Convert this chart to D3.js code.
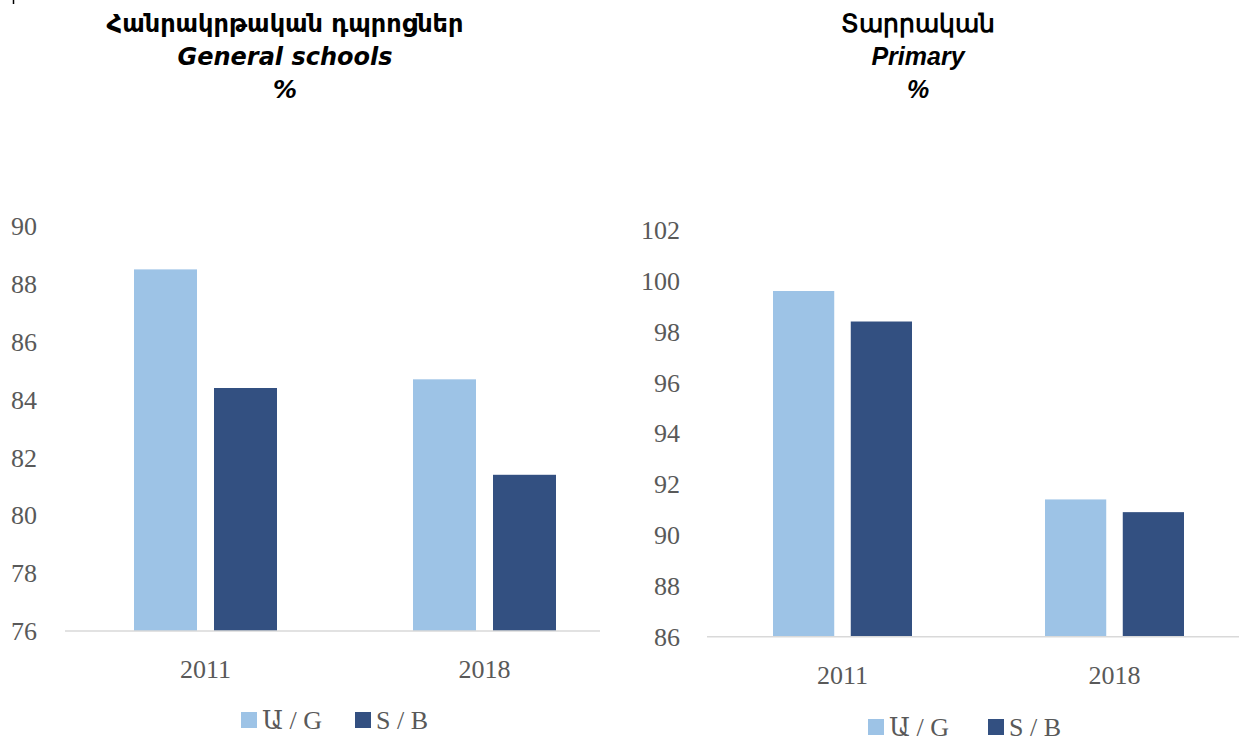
<!DOCTYPE html>
<html>
<head>
<meta charset="utf-8">
<script src="https://cdn.jsdelivr.net/npm/d3@7"></script>
<style>
  body { margin: 0; background: #fff; }
  .tick-label { font-family: "Liberation Serif", "DejaVu Serif", serif; font-size: 26px; fill: #595959; }
  .title-a { font-family: "DejaVu Sans", "Noto Sans", sans-serif; font-weight: bold; font-size: 24px; fill: #000; }
  .title-b { font-family: "Liberation Sans", Arial, sans-serif; font-weight: bold; font-size: 25px; fill: #000; }
</style>
</head>
<body>
<svg id="chart" width="1239" height="742"></svg>
<script>
const years = ["2011", "2018"];
const seriesNames = ["Ա / G", "S / B"];
const generalG = [88.5, 84.7];
const generalB = [84.4, 81.4];
const primaryG = [99.6, 91.4];
const primaryB = [98.4, 90.9];
const generalTicks = [76, 78, 80, 82, 84, 86, 88, 90];
const primaryTicks = [86, 88, 90, 92, 94, 96, 98, 100, 102];

const colors = ["#9DC3E6", "#335081"];
const svg = d3.select("#chart");

// small mark top-left
svg.append("line").attr("x1", 13.5).attr("x2", 13.5).attr("y1", 0).attr("y2", 4)
   .attr("stroke", "#000").attr("stroke-width", 1.5);

function drawPanel(cfg) {
    const g = svg.append("g");
    const x0 = d3.scaleBand().domain(years).range(cfg.xRange).paddingInner(0).paddingOuter(0);
    const half = cfg.group / 2;
    const x1 = d3.scaleBand().domain(seriesNames).range([-half, half])
                 .paddingInner(cfg.pad).paddingOuter(0);
    const y = d3.scaleLinear().domain(cfg.domain).range(cfg.yRange);

    // tick labels
    cfg.ticks.forEach(t => {
        g.append("text")
         .attr("class", "tick-label")
         .attr("x", cfg.labelX)
         .attr("y", y(t))
         .attr("dy", "0.35em")
         .attr("text-anchor", cfg.labelAnchor)
         .text(t);
    });

    // bars
    years.forEach((yr, i) => {
        const vals = [cfg.g[i], cfg.b[i]];
        seriesNames.forEach((s, j) => {
            const cx = x0(yr) + x0.bandwidth() / 2;
            g.append("rect")
             .attr("x", cx + x1(s))
             .attr("width", x1.bandwidth())
             .attr("y", y(vals[j]))
             .attr("height", y(cfg.domain[0]) - y(vals[j]))
             .attr("fill", colors[j]);
        });
        g.append("text")
         .attr("class", "tick-label")
         .attr("x", x0(yr) + x0.bandwidth() / 2)
         .attr("y", cfg.catY)
         .attr("text-anchor", "middle")
         .text(yr);
    });

    // baseline
    g.append("line")
     .attr("x1", cfg.lineX[0]).attr("x2", cfg.lineX[1])
     .attr("y1", y(cfg.domain[0])).attr("y2", y(cfg.domain[0]))
     .attr("stroke", "#d9d9d9").attr("stroke-width", 1.5);

    // legend
    seriesNames.forEach((s, j) => {
        const lx = cfg.legendX[j];
        g.append("rect").attr("x", lx).attr("y", cfg.legendY - 8)
         .attr("width", 16).attr("height", 16).attr("fill", colors[j]);
        g.append("text").attr("class", "tick-label")
         .attr("x", lx + 21).attr("y", cfg.legendY).attr("dy", "0.35em")
         .text(s);
    });

    // titles
    cfg.titles.forEach((t, k) => {
        g.append("text")
         .attr("class", cfg.titleClass)
         .attr("x", cfg.titleX)
         .attr("y", cfg.titleY[k])
         .attr("text-anchor", "middle")
         .style("font-style", k > 0 ? "italic" : "normal")
         .text(t);
    });
}

drawPanel({
    xRange: [66, 624], group: 143, pad: 0.2125,
    domain: [76, 90], yRange: [631, 226], ticks: generalTicks,
    g: generalG, b: generalB,
    labelX: 11, labelAnchor: "start", catY: 678,
    lineX: [65, 600],
    legendX: [241, 355], legendY: 720,
    titles: ["Հանրակրթական դպրոցներ", "General schools", "%"],
    titleClass: "title-a", titleX: 285, titleY: [32, 65, 98]
});

drawPanel({
    xRange: [706.5, 1250.5], group: 139, pad: 0.2125,
    domain: [86, 102], yRange: [636.7, 230], ticks: primaryTicks,
    g: primaryG, b: primaryB,
    labelX: 680, labelAnchor: "end", catY: 684,
    lineX: [707, 1239],
    legendX: [868, 988], legendY: 727,
    titles: ["Տարրական", "Primary", "%"],
    titleClass: "title-b", titleX: 918, titleY: [32, 65, 98]
});
</script>
</body>
</html>
